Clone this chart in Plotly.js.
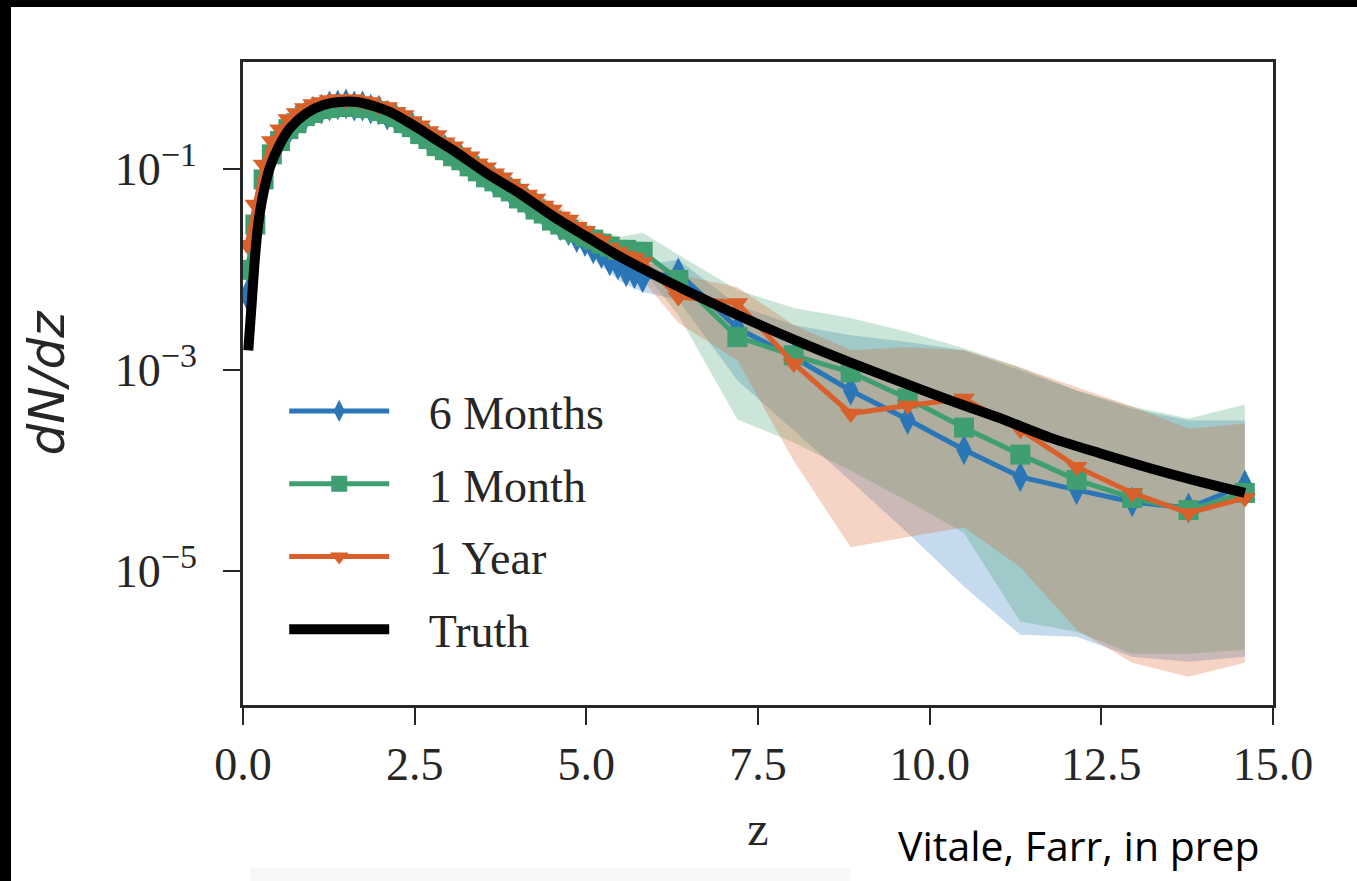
<!DOCTYPE html>
<html>
<head>
<meta charset="utf-8">
<script src="https://cdn.plot.ly/plotly-3.0.1.min.js"></script>
<style>
  html, body { margin: 0; padding: 0; background: #000; width: 1357px; height: 881px; overflow: hidden; }
  #chart { position: absolute; left: 11px; top: 7px; width: 1346px; height: 874px; background: #fff; }
</style>
</head>
<body>
<div id="chart"></div>
<script>
// Redshift grid of the reconstructed rate (fine bins up to z~5.8, coarse bins beyond)
const seriesZ = [0.06,0.18,0.30,0.42,0.54,0.66,0.78,0.90,1.02,1.14,1.26,1.38,1.50,1.62,1.74,1.86,1.98,2.10,2.22,2.34,
  2.46,2.58,2.70,2.82,2.94,3.06,3.18,3.30,3.42,3.54,3.66,3.78,3.90,4.02,4.14,4.26,4.38,4.50,4.62,4.74,
  4.86,4.98,5.10,5.22,5.34,5.46,5.58,5.70,5.82,6.34,7.20,8.02,8.85,9.68,10.50,11.32,12.14,12.95,13.77,14.59];

const sixMonths = [5.62e-3,2.51e-2,7.59e-2,0.135,0.191,0.240,0.295,0.331,0.380,0.398,
  0.427,0.437,0.447,0.427,0.427,0.398,0.389,0.347,0.331,0.295,
  0.269,0.234,0.204,0.182,0.158,0.141,0.126,0.112,9.77e-2,8.71e-2,
  7.59e-2,6.92e-2,6.03e-2,5.37e-2,4.68e-2,4.17e-2,3.63e-2,3.24e-2,2.75e-2,2.45e-2,
  2.09e-2,1.91e-2,1.62e-2,1.45e-2,1.23e-2,1.12e-2,9.55e-3,9.12e-3,8.32e-3,
  9.33e-3,2.63e-3,1.35e-3,6.31e-4,3.24e-4,1.62e-4,8.71e-5,6.46e-5,4.90e-5,4.27e-5,7.24e-5];

const oneMonth = [1.00e-2,2.82e-2,7.94e-2,0.141,0.191,0.251,0.288,0.339,0.363,0.398,
  0.407,0.427,0.417,0.437,0.407,0.407,0.380,0.355,0.331,0.288,
  0.263,0.224,0.200,0.170,0.155,0.135,0.123,0.107,9.55e-2,8.32e-2,
  7.59e-2,6.61e-2,6.03e-2,5.13e-2,4.68e-2,3.98e-2,3.63e-2,3.09e-2,2.82e-2,2.51e-2,
  2.34e-2,2.14e-2,2.00e-2,1.82e-2,1.70e-2,1.58e-2,1.58e-2,1.51e-2,1.51e-2,
  7.94e-3,2.14e-3,1.41e-3,9.55e-4,5.25e-4,2.69e-4,1.45e-4,8.13e-5,5.37e-5,4.07e-5,6.03e-5];

const oneYear = [1.78e-2,4.47e-2,0.112,0.191,0.251,0.316,0.363,0.407,0.447,0.468,
  0.490,0.501,0.490,0.501,0.479,0.468,0.427,0.417,0.372,0.347,
  0.302,0.275,0.240,0.219,0.186,0.170,0.148,0.135,0.115,0.105,
  9.12e-2,8.32e-2,7.24e-2,6.46e-2,5.62e-2,5.13e-2,4.37e-2,3.98e-2,3.39e-2,3.16e-2,
  2.69e-2,2.45e-2,2.09e-2,1.95e-2,1.66e-2,1.51e-2,1.38e-2,1.32e-2,1.20e-2,
  5.37e-3,4.68e-3,1.17e-3,3.72e-4,4.47e-4,5.25e-4,2.57e-4,1.10e-4,6.03e-5,3.80e-5,5.37e-5];

// Credible bands (upper / lower) per observing time
const bandZ = [0.06,0.18,0.30,0.42,0.60,1.0,1.5,2.0,2.5,3.0,3.5,4.0,4.5,5.0,5.5,5.82,
  6.34,7.20,8.02,8.85,9.68,10.50,11.32,12.14,12.95,13.77,14.59];

const sixMonthsUpper = [7.94e-3,2.82e-2,8.51e-2,0.145,0.234,0.398,0.479,0.417,0.275,0.166,0.100,6.46e-2,3.98e-2,2.40e-2,1.32e-2,1.12e-2,
  1.26e-2,4.47e-3,2.82e-3,2.24e-3,1.91e-3,1.58e-3,1.00e-3,6.31e-4,4.17e-4,3.16e-4,3.16e-4];
const sixMonthsLower = [3.98e-3,2.24e-2,6.76e-2,0.126,0.195,0.347,0.417,0.363,0.234,0.135,7.94e-2,4.57e-2,2.63e-2,1.45e-2,7.59e-3,6.03e-3,
  5.01e-3,7.94e-4,2.51e-4,7.94e-5,2.40e-5,7.08e-6,2.34e-6,2.24e-6,1.41e-6,1.26e-6,1.41e-6];

const oneMonthUpper = [1.41e-2,3.16e-2,8.91e-2,0.151,0.240,0.389,0.457,0.407,0.275,0.158,9.77e-2,6.03e-2,3.80e-2,2.63e-2,2.14e-2,2.34e-2,
  1.41e-2,6.31e-3,4.17e-3,3.31e-3,2.40e-3,1.66e-3,1.07e-3,6.31e-4,4.37e-4,3.31e-4,4.57e-4];
const oneMonthLower = [7.08e-3,2.51e-2,7.08e-2,0.132,0.200,0.339,0.389,0.355,0.229,0.126,7.59e-2,4.37e-2,2.51e-2,1.66e-2,1.12e-2,1.00e-2,
  3.55e-3,3.24e-4,1.91e-4,1.00e-4,5.01e-5,2.40e-5,3.16e-6,2.51e-6,1.51e-6,1.51e-6,1.66e-6];

const oneYearUpper = [2.51e-2,5.01e-2,0.126,0.204,0.302,0.468,0.525,0.457,0.316,0.191,0.120,7.41e-2,4.68e-2,2.95e-2,1.82e-2,1.51e-2,
  8.91e-3,6.76e-3,2.82e-3,1.58e-3,1.70e-3,1.58e-3,1.07e-3,6.76e-4,4.37e-4,2.63e-4,2.95e-4];
const oneYearLower = [1.26e-2,3.98e-2,0.100,0.178,0.251,0.407,0.457,0.398,0.269,0.155,9.33e-2,5.37e-2,3.16e-2,1.91e-2,1.05e-2,7.94e-3,
  2.95e-3,1.26e-3,1.26e-4,1.74e-5,2.19e-5,2.75e-5,1.10e-5,2.63e-6,1.23e-6,8.91e-7,1.23e-6];

// True merger-rate density
const truthZ = [0.077,0.127,0.175,0.223,0.296,0.393,0.515,0.684,0.927,1.17,1.41,1.66,1.90,2.14,2.38,
  2.62,2.87,3.06,3.55,4.03,4.52,5.0,5.49,6.17,7.14,8.11,8.84,9.6,10.3,11.0,11.75,12.5,13.3,14.0,14.59];
const truth = [1.58e-3,4.68e-3,1.35e-2,2.88e-2,5.75e-2,0.105,0.166,0.257,0.363,0.437,0.468,0.468,0.427,0.372,0.302,
  0.240,0.186,0.155,9.12e-2,5.75e-2,3.39e-2,2.14e-2,1.35e-2,7.76e-3,3.72e-3,1.91e-3,1.20e-3,7.59e-4,5.01e-4,3.39e-4,
  2.14e-4,1.48e-4,1.02e-4,7.59e-5,6.03e-5];

const seriesNames = ['6 Months', '1 Month', '1 Year'];
const truthName = 'Truth';
const xTicks = [0, 2.5, 5, 7.5, 10, 12.5, 15];
const xTickText = ['0.0', '2.5', '5.0', '7.5', '10.0', '12.5', '15.0'];
const yTicks = [1e-5, 1e-3, 1e-1];
const yExponents = ['\u22125', '\u22123', '\u22121'];

const colors = ['#2a76b7', '#3f9f70', '#d9602a'];
const fills = ['rgba(42,118,183,0.27)', 'rgba(63,159,112,0.27)', 'rgba(217,96,42,0.27)'];
const symbols = ['diamond-tall', 'square', 'triangle-down'];
const sizes = [22, 20, 19];

const values = [sixMonths, oneMonth, oneYear];
const uppers = [sixMonthsUpper, oneMonthUpper, oneYearUpper];
const lowers = [sixMonthsLower, oneMonthLower, oneYearLower];

// legend labels sit a little away from their line samples
const pad = '\u00a0\u00a0\u00a0';

const traces = [];
// shaded bands first, so the lines sit on top
for (let i = 0; i < 3; i++) {
  traces.push({
    x: bandZ.concat(bandZ.slice().reverse()),
    y: uppers[i].concat(lowers[i].slice().reverse()),
    type: 'scatter', mode: 'lines', fill: 'toself',
    fillcolor: fills[i], line: {width: 0, color: fills[i]},
    showlegend: false, hoverinfo: 'skip'
  });
}
for (let i = 0; i < 3; i++) {
  traces.push({
    x: seriesZ, y: values[i], name: pad + seriesNames[i],
    type: 'scatter', mode: 'lines+markers',
    line: {color: colors[i], width: 5},
    marker: {symbol: symbols[i], size: sizes[i], color: colors[i], line: {width: 0}},
    legendgroup: 'g' + i
  });
}
traces.push({
  x: truthZ, y: truth, name: pad + truthName, type: 'scatter', mode: 'lines',
  line: {color: '#000', width: 10, shape: 'spline', smoothing: 0.8}, legendgroup: 'g3'
});

const serif = 'Liberation Serif, Times New Roman, serif';
const axisColor = '#262626';

const layout = {
  width: 1346, height: 874,
  margin: {l: 232, r: 84, t: 55, b: 176},
  paper_bgcolor: '#fff', plot_bgcolor: '#fff',
  showlegend: true,
  legend: {
    x: 0.04, y: 0.514, xanchor: 'left', yanchor: 'top',
    font: {family: serif, size: 46, color: axisColor},
    bgcolor: 'rgba(0,0,0,0)', itemwidth: 100, tracegroupgap: 10
  },
  xaxis: {
    range: [0, 15], tickvals: xTicks, ticktext: xTickText,
    ticks: 'outside', ticklen: 17, tickwidth: 2, tickcolor: axisColor,
    showline: true, linewidth: 2.5, linecolor: axisColor, mirror: true,
    showgrid: false, zeroline: false, ticklabelstandoff: 0,
    tickfont: {family: serif, size: 46, color: axisColor},
    title: {text: 'z', font: {family: serif, size: 48, color: axisColor}, standoff: 23}
  },
  yaxis: {
    type: 'log', range: [-6.33, 0.068], tickvals: yTicks,
    ticktext: yExponents.map(e => '10<sup><span style="font-size:34px">' + e + '</span></sup>'),
    ticks: 'outside', ticklen: 17, tickwidth: 2, tickcolor: axisColor,
    showline: true, linewidth: 2.5, linecolor: axisColor, mirror: true,
    showgrid: false, zeroline: false, ticklabelstandoff: 17,
    tickfont: {family: serif, size: 46, color: axisColor},
    title: {text: '<i>dN/dz</i>', font: {family: 'DejaVu Sans, sans-serif', size: 50, color: axisColor}, standoff: 35}
  },
  shapes: [{
    type: 'rect', xref: 'paper', yref: 'paper', layer: 'below',
    x0: 0.007, x1: 0.589, y0: -0.2737, y1: -0.254,
    fillcolor: '#f7f7f7', line: {width: 0}
  }],
  annotations: [{
    text: 'Vitale, Farr, in prep', xref: 'paper', yref: 'paper',
    x: 0.634, y: -0.218, xanchor: 'left', yanchor: 'middle', showarrow: false,
    font: {family: 'Open Sans, sans-serif', size: 41, color: '#000'}
  }]
};

Plotly.newPlot('chart', traces, layout, {displayModeBar: false, responsive: false});
</script>
</body>
</html>
